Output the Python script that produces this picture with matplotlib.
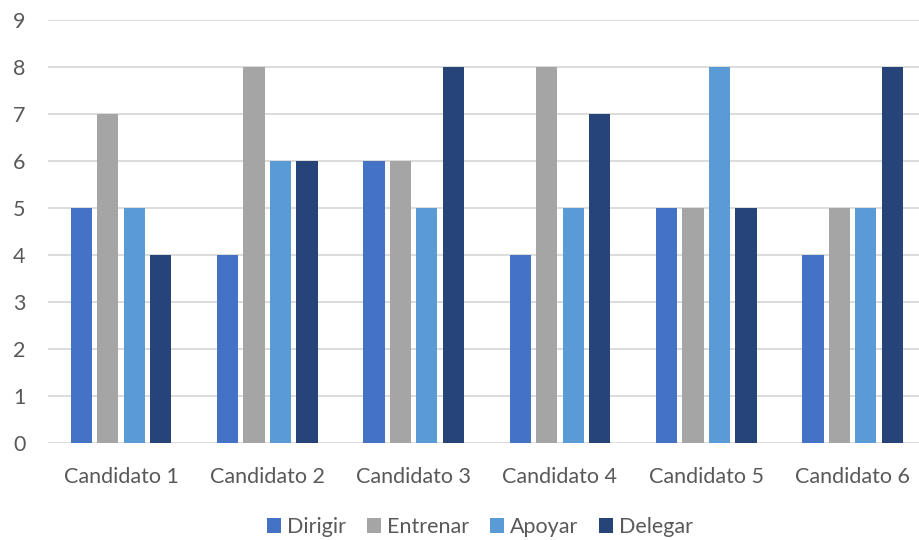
import matplotlib
matplotlib.use("Agg")
import matplotlib.pyplot as plt
import numpy as np

categories = ["Candidato 1", "Candidato 2", "Candidato 3", "Candidato 4", "Candidato 5", "Candidato 6"]
series_names = ["Dirigir", "Entrenar", "Apoyar", "Delegar"]
dirigir = [5, 4, 6, 4, 5, 4]
entrenar = [7, 8, 6, 8, 5, 5]
apoyar = [5, 6, 5, 5, 8, 5]
delegar = [4, 6, 8, 7, 5, 8]
colors = ["#4472C4", "#A5A5A5", "#5B9BD5", "#264478"]
yticks = list(range(0, 10))

plt.rcParams["font.family"] = ["Lato", "DejaVu Sans"]
text_color = "#595959"

fig = plt.figure(figsize=(9.19, 5.40), dpi=100)
ax = fig.add_axes([47.8 / 919, 97 / 540, 878 / 919, 423 / 540])

x = np.arange(len(categories))
step = 0.181
width = 0.145
for i, (name, vals) in enumerate(zip(series_names, [dirigir, entrenar, apoyar, delegar])):
    ax.bar(x + (i - 1.5) * step, vals, width=width, color=colors[i], label=name, zorder=3)

ax.set_xlim(-0.5, len(categories) - 0.5)
ax.set_ylim(0, 9)
ax.set_yticks(yticks)
ax.set_xticks(x)
ax.set_xticklabels(categories)
ax.grid(axis="y", color="#D9D9D9", linewidth=1.3, zorder=0)
for s in ax.spines.values():
    s.set_visible(False)
ax.tick_params(axis="both", length=0, labelsize=15.5, colors=text_color)
ax.tick_params(axis="x", pad=17)
ax.tick_params(axis="y", pad=16)

leg = fig.legend(loc="center", bbox_to_anchor=(480 / 919, 1 - 527 / 540), ncol=4,
                 frameon=False, fontsize=15.5, handlelength=0.65, handleheight=0.65,
                 handletextpad=0.3, columnspacing=0.95)
for t in leg.get_texts():
    t.set_color(text_color)

fig.savefig("out.png", dpi=100)
